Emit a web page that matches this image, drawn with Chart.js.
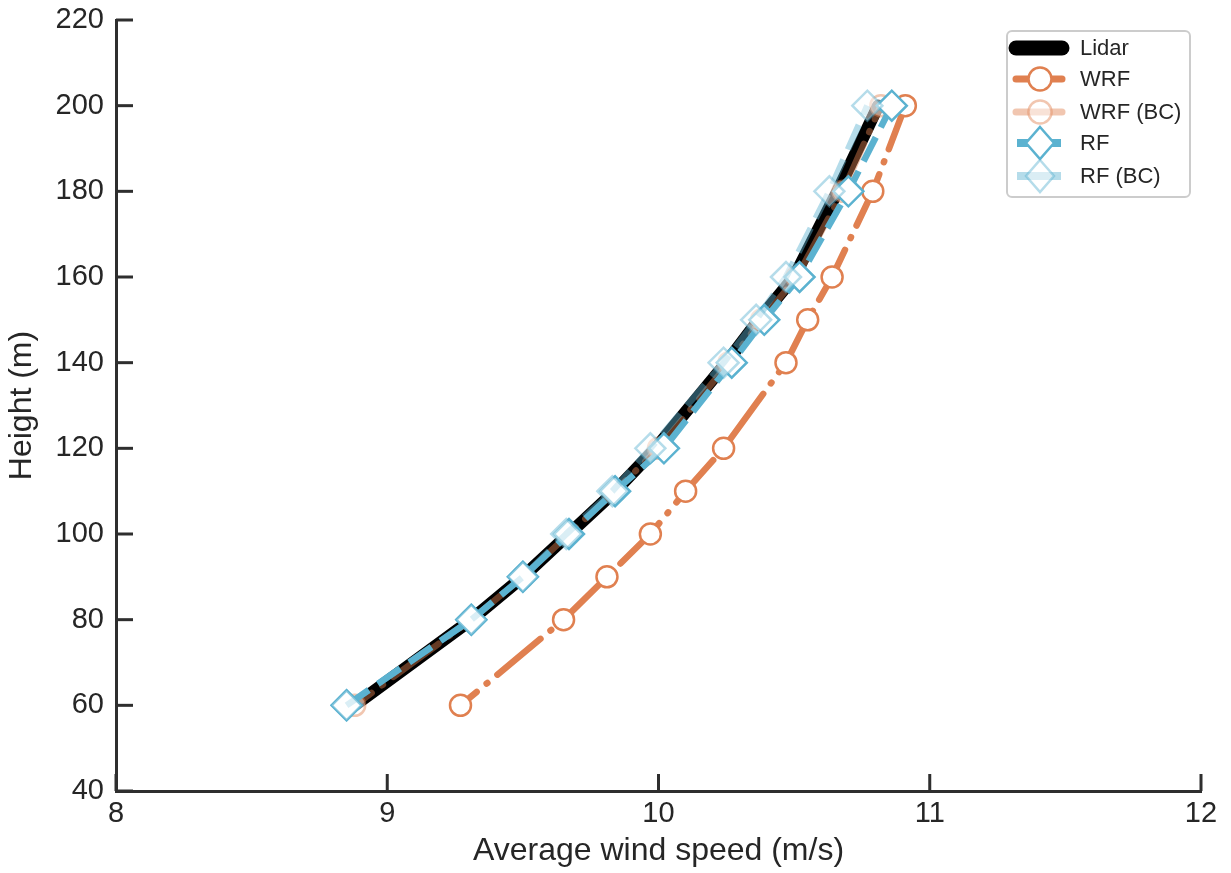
<!DOCTYPE html>
<html>
<head>
<meta charset="utf-8">
<script src="https://cdn.jsdelivr.net/npm/chart.js@4.4.0/dist/chart.umd.min.js"></script>
<style>
  html, body { margin: 0; padding: 0; background: #ffffff; }
  #wrap { width: 1231px; height: 873px; }
</style>
</head>
<body>
<div id="wrap"><canvas id="c" width="1231" height="873"></canvas></div>
<script>
// ---- Data ----
const heights = [60, 80, 90, 100, 110, 120, 140, 150, 160, 180, 200];
const lidarSpeed = [8.88, 9.31, 9.50, 9.67, 9.84, 9.99, 10.25, 10.37, 10.50, 10.66, 10.81];
const wrfSpeed   = [9.27, 9.65, 9.81, 9.97, 10.10, 10.24, 10.47, 10.55, 10.64, 10.79, 10.91];
const wrfBcSpeed = [8.88, 9.31, 9.50, 9.67, 9.84, 10.00, 10.26, 10.38, 10.51, 10.68, 10.82];
const rfSpeed    = [8.85, 9.31, 9.50, 9.67, 9.84, 10.02, 10.27, 10.39, 10.52, 10.70, 10.86];
const rfBcSpeed  = [8.85, 9.31, 9.50, 9.66, 9.83, 9.97, 10.24, 10.36, 10.47, 10.63, 10.77];
const xTicks = [8, 9, 10, 11, 12];
const yTicks = [40, 60, 80, 100, 120, 140, 160, 180, 200, 220];
const seriesLabels = ['Lidar', 'WRF', 'WRF (BC)', 'RF', 'RF (BC)'];

const pts = (xs) => xs.map((v, i) => ({ x: v, y: heights[i] }));

const FONT = "'Liberation Sans', Arial, Helvetica, sans-serif";
const AXIS = '#2e2e2e';
const ORANGE = 'rgb(224,128,80)';
const ORANGE_L = 'rgba(224,128,80,0.45)';
const BLUE = 'rgb(91,178,208)';
const BLUE_L = 'rgba(91,178,208,0.45)';

const datasets = [
  { label: seriesLabels[0], data: pts(lidarSpeed), borderColor: '#000000', borderWidth: 12.5,
    borderCapStyle: 'round', borderJoinStyle: 'round', pointRadius: 0, order: 5,
    _legend: { width: 15, cap: 'round', marker: null } },
  { label: seriesLabels[1], data: pts(wrfSpeed), borderColor: ORANGE, borderWidth: 6.5,
    borderDash: [56, 13, 1, 13], borderDashOffset: 35, borderCapStyle: 'round', borderJoinStyle: 'round',
    pointStyle: 'circle', pointRadius: 10.5, pointBorderWidth: 2.5,
    pointBackgroundColor: '#ffffff', pointBorderColor: ORANGE, order: 4,
    _legend: { width: 7, cap: 'round', marker: 'circle', fill: '#ffffff' } },
  { label: seriesLabels[2], data: pts(wrfBcSpeed), borderColor: ORANGE_L, borderWidth: 6.5,
    borderDash: [56, 13, 1, 13], borderDashOffset: 35, borderCapStyle: 'round', borderJoinStyle: 'round',
    pointStyle: 'circle', pointRadius: 10.5, pointBorderWidth: 2.5,
    pointBackgroundColor: 'rgba(255,255,255,0.5)', pointBorderColor: ORANGE_L, order: 3,
    _legend: { width: 7, cap: 'round', marker: 'circle', fill: 'rgba(255,255,255,0.5)' } },
  { label: seriesLabels[3], data: pts(rfSpeed), borderColor: BLUE, borderWidth: 6.5,
    borderDash: [27, 11], borderCapStyle: 'butt', borderJoinStyle: 'round',
    pointStyle: 'rectRot', pointRadius: 15, pointBorderWidth: 2.5,
    pointBackgroundColor: '#ffffff', pointBorderColor: BLUE, order: 2,
    _legend: { width: 8, cap: 'butt', marker: 'diamond', fill: '#ffffff' } },
  { label: seriesLabels[4], data: pts(rfBcSpeed), borderColor: BLUE_L, borderWidth: 6.5,
    borderDash: [27, 11], borderCapStyle: 'butt', borderJoinStyle: 'round',
    pointStyle: 'rectRot', pointRadius: 15, pointBorderWidth: 2.5,
    pointBackgroundColor: 'rgba(255,255,255,0.5)', pointBorderColor: BLUE_L, order: 1,
    _legend: { width: 8, cap: 'butt', marker: 'diamond', fill: 'rgba(255,255,255,0.5)' } }
];

// inward tick marks
const inwardTicks = {
  id: 'inwardTicks',
  beforeDatasetsDraw(chart) {
    const { ctx, chartArea: a, scales: { x, y } } = chart;
    ctx.save();
    ctx.strokeStyle = AXIS;
    ctx.lineWidth = 3;
    ctx.lineCap = 'butt';
    yTicks.forEach(v => {
      const py = y.getPixelForValue(v);
      ctx.beginPath(); ctx.moveTo(a.left, py); ctx.lineTo(a.left + 17, py); ctx.stroke();
    });
    xTicks.forEach(v => {
      const px = x.getPixelForValue(v);
      ctx.beginPath(); ctx.moveTo(px, a.bottom); ctx.lineTo(px, a.bottom - 17); ctx.stroke();
    });
    ctx.restore();
  }
};

// custom legend: line sample + marker
const customLegend = {
  id: 'customLegend',
  afterDraw(chart) {
    const { ctx } = chart;
    const bx = 1007, by = 31, bw = 183, bh = 166, r = 5;
    ctx.save();
    ctx.beginPath();
    ctx.moveTo(bx + r, by);
    ctx.arcTo(bx + bw, by, bx + bw, by + bh, r);
    ctx.arcTo(bx + bw, by + bh, bx, by + bh, r);
    ctx.arcTo(bx, by + bh, bx, by, r);
    ctx.arcTo(bx, by, bx + bw, by, r);
    ctx.closePath();
    ctx.fillStyle = 'rgba(255,255,255,0.85)';
    ctx.fill();
    ctx.strokeStyle = '#cccccc';
    ctx.lineWidth = 2;
    ctx.stroke();

    const rowY = [48, 79, 112, 143, 176];
    chart.data.datasets.forEach((ds, i) => {
      const L = ds._legend;
      const cy = rowY[i];
      const cx = 1040;
      ctx.beginPath();
      ctx.strokeStyle = ds.borderColor;
      ctx.lineWidth = L.width;
      ctx.lineCap = L.cap;
      ctx.setLineDash([]);
      if (L.cap === 'round') {
        ctx.moveTo(1016, cy); ctx.lineTo(1062, cy);
      } else {
        ctx.moveTo(1017, cy); ctx.lineTo(1061, cy);
      }
      ctx.stroke();
      if (L.marker === 'circle') {
        ctx.beginPath();
        ctx.arc(cx, cy, 11.5, 0, Math.PI * 2);
        ctx.fillStyle = L.fill; ctx.fill();
        ctx.lineWidth = 2.5; ctx.strokeStyle = ds.pointBorderColor; ctx.stroke();
      } else if (L.marker === 'diamond') {
        ctx.beginPath();
        ctx.moveTo(cx, cy - 16); ctx.lineTo(cx + 14, cy); ctx.lineTo(cx, cy + 16); ctx.lineTo(cx - 14, cy);
        ctx.closePath();
        ctx.fillStyle = L.fill; ctx.fill();
        ctx.lineWidth = 2.5; ctx.strokeStyle = ds.pointBorderColor; ctx.stroke();
      }
      ctx.fillStyle = '#262626';
      ctx.font = `22px ${FONT}`;
      ctx.textAlign = 'left';
      ctx.textBaseline = 'middle';
      ctx.fillText(ds.label, 1080, cy + 1);
    });
    ctx.restore();
  }
};

new Chart(document.getElementById('c'), {
  type: 'line',
  data: { datasets },
  options: {
    responsive: false,
    devicePixelRatio: 1,
    animation: false,
    events: [],
    layout: { padding: { top: 20, right: 30, left: 0, bottom: 0 } },
    plugins: { legend: { display: false }, tooltip: { enabled: false } },
    elements: { line: { tension: 0, fill: false } },
    scales: {
      x: {
        type: 'linear', min: 8, max: 12,
        afterBuildTicks: (s) => { s.ticks = xTicks.map(v => ({ value: v })); },
        afterFit: (s) => { s.height = 82; },
        grid: { display: true, drawOnChartArea: false, drawTicks: false },
        border: { display: true, color: AXIS, width: 3 },
        ticks: { color: '#262626', font: { family: FONT, size: 29 }, padding: 6, maxRotation: 0 },
        title: { display: true, text: 'Average wind speed (m/s)', color: '#262626',
          font: { family: FONT, size: 32 }, padding: { top: 0, bottom: 3 } }
      },
      y: {
        type: 'linear', min: 40, max: 220,
        afterBuildTicks: (s) => { s.ticks = yTicks.map(v => ({ value: v })); },
        afterFit: (s) => { s.width = 116; s.paddingTop = 0; s.paddingBottom = 0; },
        grid: { display: true, drawOnChartArea: false, drawTicks: false },
        border: { display: true, color: AXIS, width: 3 },
        ticks: { color: '#262626', font: { family: FONT, size: 29, lineHeight: 0.8 }, padding: 12 },
        title: { display: true, text: 'Height (m)', color: '#262626',
          font: { family: FONT, size: 32 }, padding: { top: 3, bottom: 0 } }
      }
    }
  },
  plugins: [inwardTicks, customLegend]
});
</script>
</body>
</html>
